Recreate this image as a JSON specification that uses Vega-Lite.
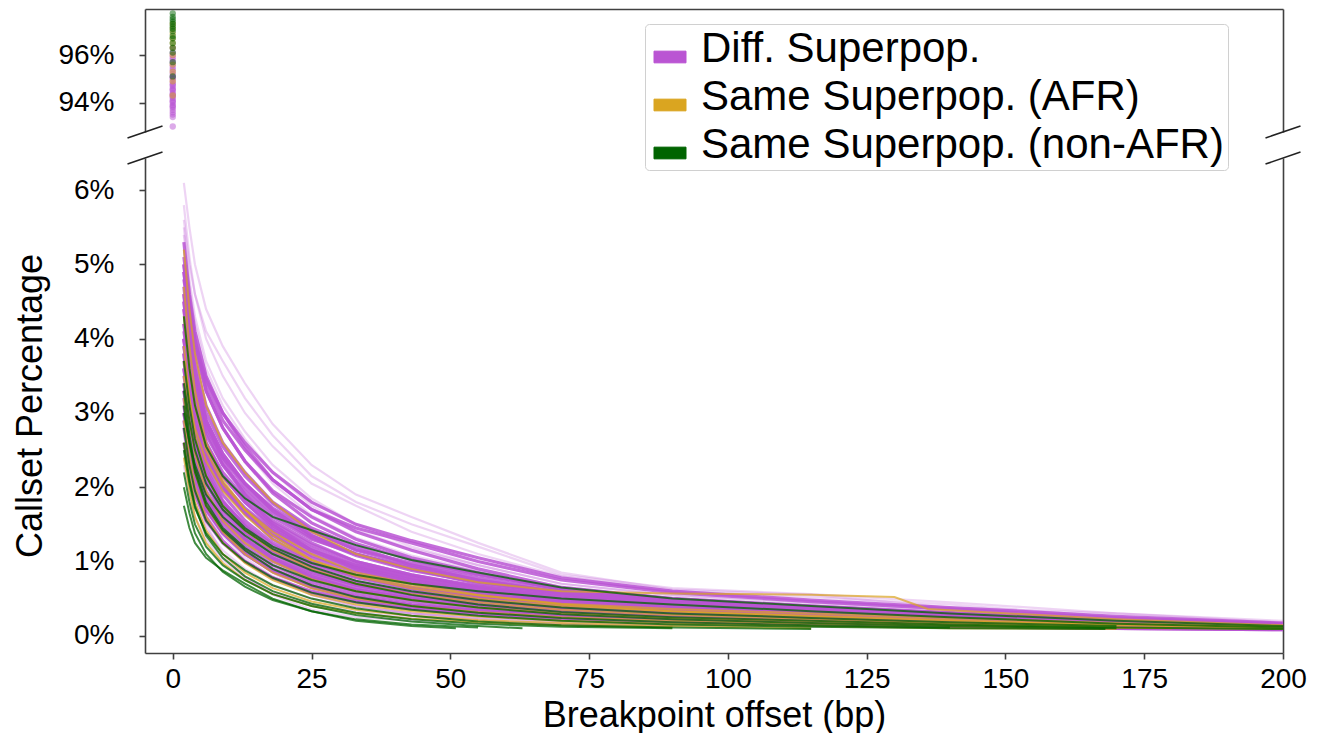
{
"$schema":"https://vega.github.io/schema/vega-lite/v6.json",
"background":"white",
"padding":{"left":12,"top":9,"right":0,"bottom":0},
"spacing":12,
"config":{"view":{"stroke":null},"font":"Liberation Sans",
"legend":{"symbolStrokeColor":"black","symbolStrokeWidth":1},
"axis":{"domainColor":"#404040","domainWidth":1.6,"tickColor":"#404040","tickWidth":1.6,"tickSize":6,"labelFontSize":28,"labelFont":"Liberation Sans","labelColor":"black","titleFont":"Liberation Sans","titleFontSize":36,"titleFontWeight":"normal","titleColor":"black","grid":false,"labelOverlap":false}},
"datasets":{
"P":[{"g":"D","x":0,"y":93.0},{"g":"D","x":0,"y":93.4},{"g":"D","x":0,"y":93.5},{"g":"D","x":0,"y":93.6},{"g":"D","x":0,"y":93.7},{"g":"D","x":0,"y":93.8},{"g":"D","x":0,"y":93.85},{"g":"D","x":0,"y":93.9},{"g":"D","x":0,"y":94.0},{"g":"D","x":0,"y":94.05},{"g":"D","x":0,"y":94.1},{"g":"D","x":0,"y":94.2},{"g":"D","x":0,"y":94.25},{"g":"D","x":0,"y":94.3},{"g":"D","x":0,"y":94.35},{"g":"D","x":0,"y":94.4},{"g":"D","x":0,"y":94.5},{"g":"D","x":0,"y":94.55},{"g":"D","x":0,"y":94.6},{"g":"D","x":0,"y":94.7},{"g":"D","x":0,"y":94.75},{"g":"D","x":0,"y":94.8},{"g":"D","x":0,"y":94.9},{"g":"D","x":0,"y":95.0},{"g":"D","x":0,"y":95.05},{"g":"D","x":0,"y":95.1},{"g":"D","x":0,"y":95.2},{"g":"D","x":0,"y":95.3},{"g":"D","x":0,"y":95.4},{"g":"D","x":0,"y":95.5},{"g":"D","x":0,"y":95.6},{"g":"D","x":0,"y":95.7},{"g":"D","x":0,"y":95.8},{"g":"D","x":0,"y":95.9},{"g":"D","x":0,"y":96.0},{"g":"D","x":0,"y":96.1},{"g":"D","x":0,"y":96.3},
{"g":"A","x":0,"y":94.3},{"g":"A","x":0,"y":94.9},{"g":"A","x":0,"y":95.3},{"g":"A","x":0,"y":95.6},{"g":"A","x":0,"y":96.0},{"g":"A","x":0,"y":96.3},{"g":"A","x":0,"y":96.5},{"g":"A","x":0,"y":96.7},{"g":"A","x":0,"y":96.9},{"g":"A","x":0,"y":97.1},{"g":"A","x":0,"y":97.3},
{"g":"N","x":0,"y":95.1},{"g":"N","x":0,"y":95.7},{"g":"N","x":0,"y":96.1},{"g":"N","x":0,"y":96.3},{"g":"N","x":0,"y":96.5},{"g":"N","x":0,"y":96.7},{"g":"N","x":0,"y":96.8},{"g":"N","x":0,"y":97.0},{"g":"N","x":0,"y":97.1},{"g":"N","x":0,"y":97.2},{"g":"N","x":0,"y":97.3},{"g":"N","x":0,"y":97.4},{"g":"N","x":0,"y":97.5},{"g":"N","x":0,"y":97.6},{"g":"N","x":0,"y":97.75}],
"D":[
{"i":1,"x":2,"y":6.1},{"i":1,"x":3,"y":5.5},{"i":1,"x":4,"y":5.0},{"i":1,"x":6,"y":4.4},{"i":1,"x":9,"y":3.9},{"i":1,"x":13,"y":3.4},{"i":1,"x":18,"y":2.85},{"i":1,"x":25,"y":2.3},{"i":1,"x":33,"y":1.9},{"i":1,"x":43,"y":1.6},{"i":1,"x":55,"y":1.25},{"i":1,"x":70,"y":0.85},{"i":1,"x":90,"y":0.62},{"i":1,"x":115,"y":0.55},{"i":1,"x":140,"y":0.38},{"i":1,"x":170,"y":0.3},{"i":1,"x":200,"y":0.18},
{"i":2,"x":2,"y":5.8},{"i":2,"x":3,"y":5.1},{"i":2,"x":4,"y":4.6},{"i":2,"x":6,"y":4.0},{"i":2,"x":9,"y":3.5},{"i":2,"x":13,"y":3.0},{"i":2,"x":18,"y":2.55},{"i":2,"x":25,"y":2.05},{"i":2,"x":33,"y":1.75},{"i":2,"x":43,"y":1.4},{"i":2,"x":55,"y":1.1},{"i":2,"x":70,"y":0.8},{"i":2,"x":90,"y":0.6},{"i":2,"x":115,"y":0.52},{"i":2,"x":140,"y":0.42},{"i":2,"x":170,"y":0.25},{"i":2,"x":200,"y":0.17},
{"i":3,"x":2,"y":5.5},{"i":3,"x":3,"y":4.8},{"i":3,"x":4,"y":4.3},{"i":3,"x":6,"y":3.7},{"i":3,"x":9,"y":3.2},{"i":3,"x":13,"y":2.75},{"i":3,"x":18,"y":2.3},{"i":3,"x":25,"y":1.85},{"i":3,"x":33,"y":1.5},{"i":3,"x":43,"y":1.2},{"i":3,"x":55,"y":0.95},{"i":3,"x":70,"y":0.7},{"i":3,"x":90,"y":0.55},{"i":3,"x":115,"y":0.45},{"i":3,"x":140,"y":0.35},{"i":3,"x":170,"y":0.22},{"i":3,"x":200,"y":0.16},
{"i":4,"x":2,"y":5.3},{"i":4,"x":3,"y":4.6},{"i":4,"x":4,"y":4.1},{"i":4,"x":6,"y":3.5},{"i":4,"x":9,"y":3.0},{"i":4,"x":13,"y":2.55},{"i":4,"x":18,"y":2.1},{"i":4,"x":25,"y":1.7},{"i":4,"x":33,"y":1.4},{"i":4,"x":43,"y":1.15},{"i":4,"x":55,"y":0.9},{"i":4,"x":70,"y":0.65},{"i":4,"x":90,"y":0.5},{"i":4,"x":115,"y":0.4},{"i":4,"x":140,"y":0.3},{"i":4,"x":170,"y":0.2},{"i":4,"x":200,"y":0.15},
{"i":5,"x":2,"y":5.1},{"i":5,"x":3,"y":4.5},{"i":5,"x":4,"y":4.0},{"i":5,"x":6,"y":3.3},{"i":5,"x":9,"y":2.8},{"i":5,"x":13,"y":2.35},{"i":5,"x":18,"y":1.95},{"i":5,"x":25,"y":1.6},{"i":5,"x":33,"y":1.3},{"i":5,"x":43,"y":1.05},{"i":5,"x":55,"y":0.85},{"i":5,"x":70,"y":0.62},{"i":5,"x":90,"y":0.48},{"i":5,"x":115,"y":0.38},{"i":5,"x":140,"y":0.3},{"i":5,"x":170,"y":0.2},{"i":5,"x":200,"y":0.14},
{"i":6,"x":2,"y":4.9},{"i":6,"x":3,"y":4.2},{"i":6,"x":4,"y":3.7},{"i":6,"x":6,"y":3.1},{"i":6,"x":9,"y":2.6},{"i":6,"x":13,"y":2.2},{"i":6,"x":18,"y":1.8},{"i":6,"x":25,"y":1.45},{"i":6,"x":33,"y":1.2},{"i":6,"x":43,"y":0.95},{"i":6,"x":55,"y":0.75},{"i":6,"x":70,"y":0.58},{"i":6,"x":90,"y":0.45},{"i":6,"x":115,"y":0.35},{"i":6,"x":140,"y":0.27},{"i":6,"x":170,"y":0.19},{"i":6,"x":200,"y":0.14},
{"i":7,"x":2,"y":4.7},{"i":7,"x":3,"y":4.0},{"i":7,"x":4,"y":3.5},{"i":7,"x":6,"y":2.9},{"i":7,"x":9,"y":2.45},{"i":7,"x":13,"y":2.05},{"i":7,"x":18,"y":1.7},{"i":7,"x":25,"y":1.35},{"i":7,"x":33,"y":1.1},{"i":7,"x":43,"y":0.9},{"i":7,"x":55,"y":0.7},{"i":7,"x":70,"y":0.55},{"i":7,"x":90,"y":0.42},{"i":7,"x":115,"y":0.33},{"i":7,"x":140,"y":0.26},{"i":7,"x":170,"y":0.18},{"i":7,"x":200,"y":0.13},
{"i":8,"x":2,"y":4.5},{"i":8,"x":3,"y":3.8},{"i":8,"x":4,"y":3.3},{"i":8,"x":6,"y":2.75},{"i":8,"x":9,"y":2.3},{"i":8,"x":13,"y":1.9},{"i":8,"x":18,"y":1.55},{"i":8,"x":25,"y":1.25},{"i":8,"x":33,"y":1.0},{"i":8,"x":43,"y":0.82},{"i":8,"x":55,"y":0.65},{"i":8,"x":70,"y":0.5},{"i":8,"x":90,"y":0.38},{"i":8,"x":115,"y":0.3},{"i":8,"x":140,"y":0.24},{"i":8,"x":170,"y":0.17},{"i":8,"x":200,"y":0.13},
{"i":9,"x":2,"y":4.4},{"i":9,"x":3,"y":3.7},{"i":9,"x":4,"y":3.2},{"i":9,"x":6,"y":2.6},{"i":9,"x":9,"y":2.15},{"i":9,"x":13,"y":1.8},{"i":9,"x":18,"y":1.45},{"i":9,"x":25,"y":1.15},{"i":9,"x":33,"y":0.92},{"i":9,"x":43,"y":0.75},{"i":9,"x":55,"y":0.6},{"i":9,"x":70,"y":0.46},{"i":9,"x":90,"y":0.36},{"i":9,"x":115,"y":0.28},{"i":9,"x":140,"y":0.22},{"i":9,"x":170,"y":0.16},{"i":9,"x":200,"y":0.12},
{"i":10,"x":2,"y":4.2},{"i":10,"x":3,"y":3.5},{"i":10,"x":4,"y":3.0},{"i":10,"x":6,"y":2.45},{"i":10,"x":9,"y":2.0},{"i":10,"x":13,"y":1.65},{"i":10,"x":18,"y":1.35},{"i":10,"x":25,"y":1.05},{"i":10,"x":33,"y":0.85},{"i":10,"x":43,"y":0.7},{"i":10,"x":55,"y":0.55},{"i":10,"x":70,"y":0.43},{"i":10,"x":90,"y":0.34},{"i":10,"x":115,"y":0.27},{"i":10,"x":140,"y":0.21},{"i":10,"x":170,"y":0.15},{"i":10,"x":200,"y":0.12},
{"i":11,"x":2,"y":4.0},{"i":11,"x":3,"y":3.35},{"i":11,"x":4,"y":2.85},{"i":11,"x":6,"y":2.3},{"i":11,"x":9,"y":1.9},{"i":11,"x":13,"y":1.55},{"i":11,"x":18,"y":1.25},{"i":11,"x":25,"y":0.98},{"i":11,"x":33,"y":0.8},{"i":11,"x":43,"y":0.65},{"i":11,"x":55,"y":0.52},{"i":11,"x":70,"y":0.4},{"i":11,"x":90,"y":0.32},{"i":11,"x":115,"y":0.25},{"i":11,"x":140,"y":0.2},{"i":11,"x":170,"y":0.15},{"i":11,"x":200,"y":0.11},
{"i":12,"x":2,"y":3.8},{"i":12,"x":3,"y":3.2},{"i":12,"x":4,"y":2.7},{"i":12,"x":6,"y":2.2},{"i":12,"x":9,"y":1.8},{"i":12,"x":13,"y":1.45},{"i":12,"x":18,"y":1.15},{"i":12,"x":25,"y":0.9},{"i":12,"x":33,"y":0.72},{"i":12,"x":43,"y":0.58},{"i":12,"x":55,"y":0.47},{"i":12,"x":70,"y":0.37},{"i":12,"x":90,"y":0.3},{"i":12,"x":115,"y":0.24},{"i":12,"x":140,"y":0.19},{"i":12,"x":170,"y":0.14},{"i":12,"x":200,"y":0.11},
{"i":13,"x":2,"y":3.6},{"i":13,"x":3,"y":3.0},{"i":13,"x":4,"y":2.55},{"i":13,"x":6,"y":2.05},{"i":13,"x":9,"y":1.7},{"i":13,"x":13,"y":1.38},{"i":13,"x":18,"y":1.1},{"i":13,"x":25,"y":0.85},{"i":13,"x":33,"y":0.68},{"i":13,"x":43,"y":0.55},{"i":13,"x":55,"y":0.44},{"i":13,"x":70,"y":0.35},{"i":13,"x":90,"y":0.28},{"i":13,"x":115,"y":0.22},{"i":13,"x":140,"y":0.18},{"i":13,"x":170,"y":0.13},{"i":13,"x":200,"y":0.1},
{"i":14,"x":2,"y":3.4},{"i":14,"x":3,"y":2.85},{"i":14,"x":4,"y":2.4},{"i":14,"x":6,"y":1.95},{"i":14,"x":9,"y":1.6},{"i":14,"x":13,"y":1.3},{"i":14,"x":18,"y":1.02},{"i":14,"x":25,"y":0.78},{"i":14,"x":33,"y":0.62},{"i":14,"x":43,"y":0.5},{"i":14,"x":55,"y":0.4},{"i":14,"x":70,"y":0.32},{"i":14,"x":90,"y":0.26},{"i":14,"x":115,"y":0.2},{"i":14,"x":140,"y":0.16},{"i":14,"x":170,"y":0.12},{"i":14,"x":200,"y":0.1},
{"i":15,"x":2,"y":3.2},{"i":15,"x":3,"y":2.7},{"i":15,"x":4,"y":2.3},{"i":15,"x":6,"y":1.85},{"i":15,"x":9,"y":1.5},{"i":15,"x":13,"y":1.2},{"i":15,"x":18,"y":0.95},{"i":15,"x":25,"y":0.72},{"i":15,"x":33,"y":0.57},{"i":15,"x":43,"y":0.46},{"i":15,"x":55,"y":0.37},{"i":15,"x":70,"y":0.3},{"i":15,"x":90,"y":0.24},{"i":15,"x":115,"y":0.19},{"i":15,"x":140,"y":0.15},{"i":15,"x":170,"y":0.11},{"i":15,"x":200,"y":0.09},
{"i":16,"x":2,"y":3.0},{"i":16,"x":3,"y":2.5},{"i":16,"x":4,"y":2.15},{"i":16,"x":6,"y":1.7},{"i":16,"x":9,"y":1.38},{"i":16,"x":13,"y":1.1},{"i":16,"x":18,"y":0.86},{"i":16,"x":25,"y":0.65},{"i":16,"x":33,"y":0.5},{"i":16,"x":43,"y":0.4},{"i":16,"x":55,"y":0.32},{"i":16,"x":70,"y":0.26},{"i":16,"x":90,"y":0.21},{"i":16,"x":115,"y":0.17},{"i":16,"x":140,"y":0.14},{"i":16,"x":170,"y":0.1},{"i":16,"x":200,"y":0.09},
{"i":17,"x":2,"y":2.8},{"i":17,"x":3,"y":2.35},{"i":17,"x":4,"y":2.0},{"i":17,"x":6,"y":1.6},{"i":17,"x":9,"y":1.28},{"i":17,"x":13,"y":1.0},{"i":17,"x":18,"y":0.78},{"i":17,"x":25,"y":0.58},{"i":17,"x":33,"y":0.45},{"i":17,"x":43,"y":0.36},{"i":17,"x":55,"y":0.29},{"i":17,"x":70,"y":0.23},{"i":17,"x":90,"y":0.19},{"i":17,"x":115,"y":0.15},{"i":17,"x":140,"y":0.12},{"i":17,"x":170,"y":0.1},{"i":17,"x":200,"y":0.08},
{"i":18,"x":2,"y":2.5},{"i":18,"x":3,"y":2.1},{"i":18,"x":4,"y":1.8},{"i":18,"x":6,"y":1.45},{"i":18,"x":9,"y":1.15},{"i":18,"x":13,"y":0.9},{"i":18,"x":18,"y":0.68},{"i":18,"x":25,"y":0.5},{"i":18,"x":33,"y":0.38},{"i":18,"x":43,"y":0.3},{"i":18,"x":55,"y":0.24},{"i":18,"x":70,"y":0.2},{"i":18,"x":90,"y":0.16},{"i":18,"x":115,"y":0.13},{"i":18,"x":140,"y":0.11},
{"i":19,"x":2,"y":2.3},{"i":19,"x":3,"y":1.9},{"i":19,"x":4,"y":1.6},{"i":19,"x":6,"y":1.3},{"i":19,"x":9,"y":1.02},{"i":19,"x":13,"y":0.78},{"i":19,"x":18,"y":0.58},{"i":19,"x":25,"y":0.42},{"i":19,"x":33,"y":0.32},{"i":19,"x":43,"y":0.25},{"i":19,"x":55,"y":0.2},{"i":19,"x":70,"y":0.16},{"i":19,"x":90,"y":0.13},
{"i":20,"x":2,"y":5.6},{"i":20,"x":3,"y":5.0},{"i":20,"x":4,"y":4.6},{"i":20,"x":6,"y":4.1},{"i":20,"x":9,"y":3.7},{"i":20,"x":13,"y":3.2},{"i":20,"x":18,"y":2.7},{"i":20,"x":25,"y":2.15},{"i":20,"x":33,"y":1.8},{"i":20,"x":43,"y":1.5},{"i":20,"x":55,"y":1.2},{"i":20,"x":70,"y":0.82},{"i":20,"x":90,"y":0.64},{"i":20,"x":115,"y":0.56},{"i":20,"x":140,"y":0.45},{"i":20,"x":170,"y":0.3},{"i":20,"x":200,"y":0.2},
{"i":21,"x":2,"y":4.8},{"i":21,"x":3,"y":4.3},{"i":21,"x":4,"y":3.9},{"i":21,"x":6,"y":3.4},{"i":21,"x":9,"y":2.9},{"i":21,"x":13,"y":2.5},{"i":21,"x":18,"y":2.1},{"i":21,"x":25,"y":1.7},{"i":21,"x":33,"y":1.45},{"i":21,"x":43,"y":1.25},{"i":21,"x":55,"y":1.0},{"i":21,"x":70,"y":0.75},{"i":21,"x":90,"y":0.58},{"i":21,"x":115,"y":0.46},{"i":21,"x":140,"y":0.36},{"i":21,"x":170,"y":0.24},{"i":21,"x":200,"y":0.16},
{"i":22,"x":2,"y":4.1},{"i":22,"x":3,"y":3.6},{"i":22,"x":4,"y":3.2},{"i":22,"x":6,"y":2.7},{"i":22,"x":9,"y":2.3},{"i":22,"x":13,"y":1.95},{"i":22,"x":18,"y":1.6},{"i":22,"x":25,"y":1.3},{"i":22,"x":33,"y":1.1},{"i":22,"x":43,"y":0.92},{"i":22,"x":55,"y":0.75},{"i":22,"x":70,"y":0.58},{"i":22,"x":90,"y":0.45},{"i":22,"x":115,"y":0.36},{"i":22,"x":140,"y":0.28},{"i":22,"x":170,"y":0.2},{"i":22,"x":200,"y":0.14},
{"i":23,"x":2,"y":3.5},{"i":23,"x":3,"y":3.1},{"i":23,"x":4,"y":2.8},{"i":23,"x":6,"y":2.4},{"i":23,"x":9,"y":2.05},{"i":23,"x":13,"y":1.7},{"i":23,"x":18,"y":1.4},{"i":23,"x":25,"y":1.12},{"i":23,"x":33,"y":0.92},{"i":23,"x":43,"y":0.76},{"i":23,"x":55,"y":0.62},{"i":23,"x":70,"y":0.48},{"i":23,"x":90,"y":0.38},{"i":23,"x":115,"y":0.3},{"i":23,"x":140,"y":0.23},{"i":23,"x":170,"y":0.17},{"i":23,"x":200,"y":0.12},
{"i":24,"x":2,"y":2.7},{"i":24,"x":3,"y":2.3},{"i":24,"x":4,"y":2.0},{"i":24,"x":6,"y":1.65},{"i":24,"x":9,"y":1.35},{"i":24,"x":13,"y":1.05},{"i":24,"x":18,"y":0.8},{"i":24,"x":25,"y":0.55},{"i":24,"x":33,"y":0.4},{"i":24,"x":43,"y":0.3},{"i":24,"x":55,"y":0.22},{"i":24,"x":70,"y":0.17},{"i":24,"x":90,"y":0.14},{"i":24,"x":115,"y":0.12},
{"i":25,"x":2,"y":3.1},{"i":25,"x":3,"y":2.5},{"i":25,"x":4,"y":2.0},{"i":25,"x":6,"y":1.5},{"i":25,"x":9,"y":1.1},{"i":25,"x":13,"y":0.8},{"i":25,"x":18,"y":0.55},{"i":25,"x":25,"y":0.35},{"i":25,"x":33,"y":0.25},{"i":25,"x":43,"y":0.2},{"i":25,"x":55,"y":0.17},{"i":25,"x":70,"y":0.15},{"i":25,"x":90,"y":0.12},
{"i":26,"x":2,"y":4.3},{"i":26,"x":3,"y":3.4},{"i":26,"x":4,"y":2.8},{"i":26,"x":6,"y":2.1},{"i":26,"x":9,"y":1.6},{"i":26,"x":13,"y":1.2},{"i":26,"x":18,"y":0.85},{"i":26,"x":25,"y":0.55},{"i":26,"x":33,"y":0.4},{"i":26,"x":43,"y":0.3},{"i":26,"x":55,"y":0.24},{"i":26,"x":70,"y":0.2},{"i":26,"x":90,"y":0.16},{"i":26,"x":115,"y":0.14},{"i":26,"x":140,"y":0.12},{"i":26,"x":170,"y":0.1},{"i":26,"x":200,"y":0.08},
{"i":27,"x":2,"y":5.0},{"i":27,"x":3,"y":4.4},{"i":27,"x":4,"y":3.95},{"i":27,"x":6,"y":3.45},{"i":27,"x":9,"y":3.0},{"i":27,"x":13,"y":2.6},{"i":27,"x":18,"y":2.2},{"i":27,"x":25,"y":1.8},{"i":27,"x":33,"y":1.5},{"i":27,"x":43,"y":1.28},{"i":27,"x":55,"y":1.05},{"i":27,"x":70,"y":0.78},{"i":27,"x":90,"y":0.6},{"i":27,"x":115,"y":0.48},{"i":27,"x":140,"y":0.38},{"i":27,"x":170,"y":0.26},{"i":27,"x":200,"y":0.17},
{"i":28,"x":2,"y":3.9},{"i":28,"x":3,"y":3.3},{"i":28,"x":4,"y":2.9},{"i":28,"x":6,"y":2.45},{"i":28,"x":9,"y":2.05},{"i":28,"x":13,"y":1.72},{"i":28,"x":18,"y":1.42},{"i":28,"x":25,"y":1.15},{"i":28,"x":33,"y":0.95},{"i":28,"x":43,"y":0.8},{"i":28,"x":55,"y":0.66},{"i":28,"x":70,"y":0.52},{"i":28,"x":90,"y":0.42},{"i":28,"x":115,"y":0.34},{"i":28,"x":140,"y":0.26},{"i":28,"x":170,"y":0.18},{"i":28,"x":200,"y":0.13},
{"i":29,"x":2,"y":4.6},{"i":29,"x":3,"y":4.0},{"i":29,"x":4,"y":3.55},{"i":29,"x":6,"y":3.0},{"i":29,"x":9,"y":2.55},{"i":29,"x":13,"y":2.15},{"i":29,"x":18,"y":1.78},{"i":29,"x":25,"y":1.42},{"i":29,"x":33,"y":1.15},{"i":29,"x":43,"y":0.95},{"i":29,"x":55,"y":0.78},{"i":29,"x":70,"y":0.6},{"i":29,"x":90,"y":0.47},{"i":29,"x":115,"y":0.37},{"i":29,"x":140,"y":0.29},{"i":29,"x":170,"y":0.2},{"i":29,"x":200,"y":0.14},
{"i":30,"x":2,"y":4.4},{"i":30,"x":3,"y":3.85},{"i":30,"x":4,"y":3.4},{"i":30,"x":6,"y":2.85},{"i":30,"x":9,"y":2.4},{"i":30,"x":13,"y":2.0},{"i":30,"x":18,"y":1.65},{"i":30,"x":25,"y":1.32},{"i":30,"x":33,"y":1.08},{"i":30,"x":43,"y":0.88},{"i":30,"x":55,"y":0.72},{"i":30,"x":70,"y":0.56},{"i":30,"x":90,"y":0.44},{"i":30,"x":115,"y":0.35},{"i":30,"x":140,"y":0.27},{"i":30,"x":170,"y":0.19},{"i":30,"x":200,"y":0.13},
{"i":31,"x":2,"y":4.0},{"i":31,"x":3,"y":3.5},{"i":31,"x":4,"y":3.1},{"i":31,"x":6,"y":2.6},{"i":31,"x":9,"y":2.2},{"i":31,"x":13,"y":1.85},{"i":31,"x":18,"y":1.52},{"i":31,"x":25,"y":1.22},{"i":31,"x":33,"y":1.0},{"i":31,"x":43,"y":0.82},{"i":31,"x":55,"y":0.67},{"i":31,"x":70,"y":0.52},{"i":31,"x":90,"y":0.41},{"i":31,"x":115,"y":0.33},{"i":31,"x":140,"y":0.26},{"i":31,"x":170,"y":0.18},{"i":31,"x":200,"y":0.13},
{"i":32,"x":2,"y":3.7},{"i":32,"x":3,"y":3.2},{"i":32,"x":4,"y":2.8},{"i":32,"x":6,"y":2.35},{"i":32,"x":9,"y":1.98},{"i":32,"x":13,"y":1.65},{"i":32,"x":18,"y":1.36},{"i":32,"x":25,"y":1.08},{"i":32,"x":33,"y":0.88},{"i":32,"x":43,"y":0.72},{"i":32,"x":55,"y":0.58},{"i":32,"x":70,"y":0.45},{"i":32,"x":90,"y":0.36},{"i":32,"x":115,"y":0.29},{"i":32,"x":140,"y":0.23},{"i":32,"x":170,"y":0.16},{"i":32,"x":200,"y":0.12},
{"i":33,"x":2,"y":5.2},{"i":33,"x":3,"y":4.6},{"i":33,"x":4,"y":4.1},{"i":33,"x":6,"y":3.5},{"i":33,"x":9,"y":3.0},{"i":33,"x":13,"y":2.5},{"i":33,"x":18,"y":2.05},{"i":33,"x":25,"y":1.62},{"i":33,"x":33,"y":1.32},{"i":33,"x":43,"y":1.08},{"i":33,"x":55,"y":0.88},{"i":33,"x":70,"y":0.66},{"i":33,"x":90,"y":0.5},{"i":33,"x":115,"y":0.4},{"i":33,"x":140,"y":0.31},{"i":33,"x":170,"y":0.21},{"i":33,"x":200,"y":0.15},
{"i":34,"x":2,"y":4.9},{"i":34,"x":3,"y":4.3},{"i":34,"x":4,"y":3.85},{"i":34,"x":6,"y":3.3},{"i":34,"x":9,"y":2.8},{"i":34,"x":13,"y":2.35},{"i":34,"x":18,"y":1.92},{"i":34,"x":25,"y":1.52},{"i":34,"x":33,"y":1.24},{"i":34,"x":43,"y":1.02},{"i":34,"x":55,"y":0.83},{"i":34,"x":70,"y":0.63},{"i":34,"x":90,"y":0.49},{"i":34,"x":115,"y":0.39},{"i":34,"x":140,"y":0.3},{"i":34,"x":170,"y":0.2},{"i":34,"x":200,"y":0.14},
{"i":35,"x":2,"y":3.3},{"i":35,"x":3,"y":2.9},{"i":35,"x":4,"y":2.55},{"i":35,"x":6,"y":2.15},{"i":35,"x":9,"y":1.8},{"i":35,"x":13,"y":1.5},{"i":35,"x":18,"y":1.22},{"i":35,"x":25,"y":0.96},{"i":35,"x":33,"y":0.78},{"i":35,"x":43,"y":0.63},{"i":35,"x":55,"y":0.51},{"i":35,"x":70,"y":0.4},{"i":35,"x":90,"y":0.32},{"i":35,"x":115,"y":0.26},{"i":35,"x":140,"y":0.2},{"i":35,"x":170,"y":0.15},{"i":35,"x":200,"y":0.11},
{"i":36,"x":2,"y":4.2},{"i":36,"x":3,"y":3.7},{"i":36,"x":4,"y":3.3},{"i":36,"x":6,"y":2.8},{"i":36,"x":9,"y":2.4},{"i":36,"x":13,"y":2.05},{"i":36,"x":18,"y":1.72},{"i":36,"x":25,"y":1.4},{"i":36,"x":33,"y":1.16},{"i":36,"x":43,"y":0.98},{"i":36,"x":55,"y":0.82},{"i":36,"x":70,"y":0.64},{"i":36,"x":90,"y":0.5},{"i":36,"x":115,"y":0.4},{"i":36,"x":140,"y":0.31},{"i":36,"x":170,"y":0.21},{"i":36,"x":200,"y":0.15},
{"i":37,"x":2,"y":5.4},{"i":37,"x":3,"y":4.7},{"i":37,"x":4,"y":4.2},{"i":37,"x":6,"y":3.6},{"i":37,"x":9,"y":3.1},{"i":37,"x":13,"y":2.65},{"i":37,"x":18,"y":2.2},{"i":37,"x":25,"y":1.75},{"i":37,"x":33,"y":1.42},{"i":37,"x":43,"y":1.17},{"i":37,"x":55,"y":0.95},{"i":37,"x":70,"y":0.7},{"i":37,"x":90,"y":0.54},{"i":37,"x":115,"y":0.43},{"i":37,"x":140,"y":0.33},{"i":37,"x":170,"y":0.22},{"i":37,"x":200,"y":0.15},
{"i":38,"x":2,"y":3.0},{"i":38,"x":3,"y":2.6},{"i":38,"x":4,"y":2.3},{"i":38,"x":6,"y":1.9},{"i":38,"x":9,"y":1.58},{"i":38,"x":13,"y":1.3},{"i":38,"x":18,"y":1.05},{"i":38,"x":25,"y":0.82},{"i":38,"x":33,"y":0.66},{"i":38,"x":43,"y":0.53},{"i":38,"x":55,"y":0.43},{"i":38,"x":70,"y":0.34},{"i":38,"x":90,"y":0.27},{"i":38,"x":115,"y":0.22},{"i":38,"x":140,"y":0.17},{"i":38,"x":170,"y":0.13},{"i":38,"x":200,"y":0.1},
{"i":39,"x":2,"y":4.5},{"i":39,"x":3,"y":3.9},{"i":39,"x":4,"y":3.45},{"i":39,"x":6,"y":2.9},{"i":39,"x":9,"y":2.45},{"i":39,"x":13,"y":2.05},{"i":39,"x":18,"y":1.68},{"i":39,"x":25,"y":1.35},{"i":39,"x":33,"y":1.1},{"i":39,"x":43,"y":0.9},{"i":39,"x":55,"y":0.73},{"i":39,"x":70,"y":0.57},{"i":39,"x":90,"y":0.45},{"i":39,"x":115,"y":0.36},{"i":39,"x":140,"y":0.28},{"i":39,"x":170,"y":0.19},{"i":39,"x":200,"y":0.14},
{"i":40,"x":2,"y":3.9},{"i":40,"x":3,"y":3.45},{"i":40,"x":4,"y":3.05},{"i":40,"x":6,"y":2.55},{"i":40,"x":9,"y":2.15},{"i":40,"x":13,"y":1.8},{"i":40,"x":18,"y":1.48},{"i":40,"x":25,"y":1.18},{"i":40,"x":33,"y":0.96},{"i":40,"x":43,"y":0.78},{"i":40,"x":55,"y":0.63},{"i":40,"x":70,"y":0.49},{"i":40,"x":90,"y":0.39},{"i":40,"x":115,"y":0.31},{"i":40,"x":140,"y":0.24},{"i":40,"x":170,"y":0.17},{"i":40,"x":200,"y":0.12},
{"i":41,"x":2,"y":3.4},{"i":41,"x":3,"y":2.8},{"i":41,"x":4,"y":2.35},{"i":41,"x":6,"y":1.85},{"i":41,"x":9,"y":1.45},{"i":41,"x":13,"y":1.15},{"i":41,"x":18,"y":0.9},{"i":41,"x":25,"y":0.68},{"i":41,"x":33,"y":0.53},{"i":41,"x":43,"y":0.42},{"i":41,"x":55,"y":0.34},{"i":41,"x":70,"y":0.27},{"i":41,"x":90,"y":0.22},{"i":41,"x":115,"y":0.18},{"i":41,"x":140,"y":0.14},{"i":41,"x":170,"y":0.11},{"i":41,"x":200,"y":0.09},
{"i":42,"x":2,"y":3.1},{"i":42,"x":3,"y":2.6},{"i":42,"x":4,"y":2.2},{"i":42,"x":6,"y":1.75},{"i":42,"x":9,"y":1.4},{"i":42,"x":13,"y":1.12},{"i":42,"x":18,"y":0.88},{"i":42,"x":25,"y":0.67},{"i":42,"x":33,"y":0.52},{"i":42,"x":43,"y":0.41},{"i":42,"x":55,"y":0.33},{"i":42,"x":70,"y":0.26},{"i":42,"x":90,"y":0.21},{"i":42,"x":115,"y":0.17},{"i":42,"x":140,"y":0.14},{"i":42,"x":170,"y":0.11},{"i":42,"x":200,"y":0.09},
{"i":43,"x":2,"y":3.6},{"i":43,"x":3,"y":3.05},{"i":43,"x":4,"y":2.6},{"i":43,"x":6,"y":2.1},{"i":43,"x":9,"y":1.72},{"i":43,"x":13,"y":1.4},{"i":43,"x":18,"y":1.12},{"i":43,"x":25,"y":0.87},{"i":43,"x":33,"y":0.69},{"i":43,"x":43,"y":0.56},{"i":43,"x":55,"y":0.45},{"i":43,"x":70,"y":0.36},{"i":43,"x":90,"y":0.29},{"i":43,"x":115,"y":0.23},{"i":43,"x":140,"y":0.18},{"i":43,"x":170,"y":0.13},{"i":43,"x":200,"y":0.1},
{"i":44,"x":2,"y":2.9},{"i":44,"x":3,"y":2.45},{"i":44,"x":4,"y":2.1},{"i":44,"x":6,"y":1.7},{"i":44,"x":9,"y":1.38},{"i":44,"x":13,"y":1.1},{"i":44,"x":18,"y":0.87},{"i":44,"x":25,"y":0.66},{"i":44,"x":33,"y":0.52},{"i":44,"x":43,"y":0.41},{"i":44,"x":55,"y":0.33},{"i":44,"x":70,"y":0.27},{"i":44,"x":90,"y":0.22},{"i":44,"x":115,"y":0.18},{"i":44,"x":140,"y":0.14},{"i":44,"x":170,"y":0.11},{"i":44,"x":200,"y":0.09},
{"i":45,"x":2,"y":4.0},{"i":45,"x":3,"y":3.3},{"i":45,"x":4,"y":2.8},{"i":45,"x":6,"y":2.25},{"i":45,"x":9,"y":1.82},{"i":45,"x":13,"y":1.48},{"i":45,"x":18,"y":1.18},{"i":45,"x":25,"y":0.92},{"i":45,"x":33,"y":0.73},{"i":45,"x":43,"y":0.59},{"i":45,"x":55,"y":0.48},{"i":45,"x":70,"y":0.38},{"i":45,"x":90,"y":0.3},{"i":45,"x":115,"y":0.24},{"i":45,"x":140,"y":0.19},{"i":45,"x":170,"y":0.14},{"i":45,"x":200,"y":0.11},
{"i":46,"x":2,"y":3.8},{"i":46,"x":3,"y":3.1},{"i":46,"x":4,"y":2.6},{"i":46,"x":6,"y":2.05},{"i":46,"x":9,"y":1.65},{"i":46,"x":13,"y":1.32},{"i":46,"x":18,"y":1.05},{"i":46,"x":25,"y":0.8},{"i":46,"x":33,"y":0.62},{"i":46,"x":43,"y":0.5},{"i":46,"x":55,"y":0.4},{"i":46,"x":70,"y":0.31},{"i":46,"x":90,"y":0.25},{"i":46,"x":115,"y":0.2},{"i":46,"x":140,"y":0.16},{"i":46,"x":170,"y":0.12},{"i":46,"x":200,"y":0.1},
{"i":47,"x":2,"y":4.6},{"i":47,"x":3,"y":3.8},{"i":47,"x":4,"y":3.2},{"i":47,"x":6,"y":2.55},{"i":47,"x":9,"y":2.05},{"i":47,"x":13,"y":1.65},{"i":47,"x":18,"y":1.3},{"i":47,"x":25,"y":1.0},{"i":47,"x":33,"y":0.8},{"i":47,"x":43,"y":0.64},{"i":47,"x":55,"y":0.52},{"i":47,"x":70,"y":0.41},{"i":47,"x":90,"y":0.33},{"i":47,"x":115,"y":0.26},{"i":47,"x":140,"y":0.2},{"i":47,"x":170,"y":0.15},{"i":47,"x":200,"y":0.11},
{"i":48,"x":2,"y":5.0},{"i":48,"x":3,"y":4.2},{"i":48,"x":4,"y":3.6},{"i":48,"x":6,"y":2.9},{"i":48,"x":9,"y":2.35},{"i":48,"x":13,"y":1.9},{"i":48,"x":18,"y":1.5},{"i":48,"x":25,"y":1.15},{"i":48,"x":33,"y":0.9},{"i":48,"x":43,"y":0.72},{"i":48,"x":55,"y":0.58},{"i":48,"x":70,"y":0.45},{"i":48,"x":90,"y":0.36},{"i":48,"x":115,"y":0.29},{"i":48,"x":140,"y":0.22},{"i":48,"x":170,"y":0.16},{"i":48,"x":200,"y":0.12},
{"i":49,"x":2,"y":2.6},{"i":49,"x":3,"y":2.2},{"i":49,"x":4,"y":1.9},{"i":49,"x":6,"y":1.55},{"i":49,"x":9,"y":1.25},{"i":49,"x":13,"y":1.0},{"i":49,"x":18,"y":0.78},{"i":49,"x":25,"y":0.6},{"i":49,"x":33,"y":0.47},{"i":49,"x":43,"y":0.37},{"i":49,"x":55,"y":0.3},{"i":49,"x":70,"y":0.24},{"i":49,"x":90,"y":0.2},{"i":49,"x":115,"y":0.16},{"i":49,"x":140,"y":0.13},{"i":49,"x":170,"y":0.1},{"i":49,"x":200,"y":0.08},
{"i":50,"x":2,"y":3.3},{"i":50,"x":3,"y":2.75},{"i":50,"x":4,"y":2.35},{"i":50,"x":6,"y":1.9},{"i":50,"x":9,"y":1.55},{"i":50,"x":13,"y":1.25},{"i":50,"x":18,"y":1.0},{"i":50,"x":25,"y":0.77},{"i":50,"x":33,"y":0.61},{"i":50,"x":43,"y":0.49},{"i":50,"x":55,"y":0.4},{"i":50,"x":70,"y":0.32},{"i":50,"x":90,"y":0.26},{"i":50,"x":115,"y":0.21},{"i":50,"x":140,"y":0.16},{"i":50,"x":170,"y":0.12},{"i":50,"x":200,"y":0.1}],
"A":[
{"i":1,"x":2,"y":5.2},{"i":1,"x":3,"y":4.4},{"i":1,"x":4,"y":3.8},{"i":1,"x":6,"y":3.1},{"i":1,"x":9,"y":2.6},{"i":1,"x":13,"y":2.2},{"i":1,"x":18,"y":1.8},{"i":1,"x":25,"y":1.4},{"i":1,"x":33,"y":1.1},{"i":1,"x":43,"y":0.9},{"i":1,"x":55,"y":0.72},{"i":1,"x":70,"y":0.6},{"i":1,"x":90,"y":0.57},{"i":1,"x":115,"y":0.55},{"i":1,"x":130,"y":0.52},{"i":1,"x":136,"y":0.36},{"i":1,"x":170,"y":0.22},{"i":1,"x":200,"y":0.14},
{"i":2,"x":2,"y":4.3},{"i":2,"x":3,"y":3.6},{"i":2,"x":4,"y":3.1},{"i":2,"x":6,"y":2.5},{"i":2,"x":9,"y":2.05},{"i":2,"x":13,"y":1.7},{"i":2,"x":18,"y":1.4},{"i":2,"x":25,"y":1.1},{"i":2,"x":33,"y":0.85},{"i":2,"x":43,"y":0.7},{"i":2,"x":55,"y":0.55},{"i":2,"x":70,"y":0.42},{"i":2,"x":90,"y":0.33},{"i":2,"x":115,"y":0.26},{"i":2,"x":140,"y":0.2},{"i":2,"x":170,"y":0.14},{"i":2,"x":200,"y":0.1},
{"i":3,"x":2,"y":3.9},{"i":3,"x":3,"y":3.2},{"i":3,"x":4,"y":2.7},{"i":3,"x":6,"y":2.15},{"i":3,"x":9,"y":1.75},{"i":3,"x":13,"y":1.42},{"i":3,"x":18,"y":1.15},{"i":3,"x":25,"y":0.9},{"i":3,"x":33,"y":0.7},{"i":3,"x":43,"y":0.56},{"i":3,"x":55,"y":0.45},{"i":3,"x":70,"y":0.35},{"i":3,"x":90,"y":0.28},{"i":3,"x":115,"y":0.22},{"i":3,"x":140,"y":0.17},{"i":3,"x":170,"y":0.12},
{"i":4,"x":2,"y":3.5},{"i":4,"x":3,"y":2.9},{"i":4,"x":4,"y":2.45},{"i":4,"x":6,"y":1.95},{"i":4,"x":9,"y":1.55},{"i":4,"x":13,"y":1.25},{"i":4,"x":18,"y":1.0},{"i":4,"x":25,"y":0.76},{"i":4,"x":33,"y":0.6},{"i":4,"x":43,"y":0.48},{"i":4,"x":55,"y":0.38},{"i":4,"x":70,"y":0.3},{"i":4,"x":90,"y":0.24},{"i":4,"x":115,"y":0.19},{"i":4,"x":140,"y":0.15},{"i":4,"x":170,"y":0.11},{"i":4,"x":200,"y":0.09},
{"i":5,"x":2,"y":3.2},{"i":5,"x":3,"y":2.6},{"i":5,"x":4,"y":2.2},{"i":5,"x":6,"y":1.75},{"i":5,"x":9,"y":1.4},{"i":5,"x":13,"y":1.1},{"i":5,"x":18,"y":0.85},{"i":5,"x":25,"y":0.64},{"i":5,"x":33,"y":0.5},{"i":5,"x":43,"y":0.4},{"i":5,"x":55,"y":0.32},{"i":5,"x":70,"y":0.25},{"i":5,"x":90,"y":0.2},{"i":5,"x":115,"y":0.16},{"i":5,"x":140,"y":0.13},{"i":5,"x":180,"y":0.1},
{"i":6,"x":2,"y":2.9},{"i":6,"x":3,"y":2.4},{"i":6,"x":4,"y":2.0},{"i":6,"x":6,"y":1.6},{"i":6,"x":9,"y":1.25},{"i":6,"x":13,"y":0.98},{"i":6,"x":18,"y":0.75},{"i":6,"x":25,"y":0.55},{"i":6,"x":33,"y":0.42},{"i":6,"x":43,"y":0.33},{"i":6,"x":55,"y":0.26},{"i":6,"x":70,"y":0.2},{"i":6,"x":90,"y":0.16},{"i":6,"x":115,"y":0.13},{"i":6,"x":140,"y":0.1},{"i":6,"x":170,"y":0.09},
{"i":7,"x":2,"y":2.6},{"i":7,"x":3,"y":2.15},{"i":7,"x":4,"y":1.8},{"i":7,"x":6,"y":1.42},{"i":7,"x":9,"y":1.1},{"i":7,"x":13,"y":0.85},{"i":7,"x":18,"y":0.64},{"i":7,"x":25,"y":0.46},{"i":7,"x":33,"y":0.35},{"i":7,"x":43,"y":0.27},{"i":7,"x":55,"y":0.21},{"i":7,"x":70,"y":0.17},{"i":7,"x":90,"y":0.13},{"i":7,"x":115,"y":0.1},
{"i":8,"x":2,"y":3.7},{"i":8,"x":3,"y":3.2},{"i":8,"x":4,"y":2.8},{"i":8,"x":6,"y":2.35},{"i":8,"x":9,"y":1.95},{"i":8,"x":13,"y":1.62},{"i":8,"x":18,"y":1.3},{"i":8,"x":25,"y":1.02},{"i":8,"x":33,"y":0.82},{"i":8,"x":43,"y":0.67},{"i":8,"x":55,"y":0.54},{"i":8,"x":70,"y":0.43},{"i":8,"x":90,"y":0.36},{"i":8,"x":115,"y":0.3},{"i":8,"x":140,"y":0.24},{"i":8,"x":170,"y":0.17},{"i":8,"x":200,"y":0.12},
{"i":9,"x":2,"y":2.4},{"i":9,"x":3,"y":1.95},{"i":9,"x":4,"y":1.6},{"i":9,"x":6,"y":1.25},{"i":9,"x":9,"y":0.98},{"i":9,"x":13,"y":0.75},{"i":9,"x":18,"y":0.56},{"i":9,"x":25,"y":0.4},{"i":9,"x":33,"y":0.3},{"i":9,"x":43,"y":0.23},{"i":9,"x":55,"y":0.18},{"i":9,"x":70,"y":0.14},{"i":9,"x":90,"y":0.11},
{"i":10,"x":2,"y":4.7},{"i":10,"x":3,"y":3.9},{"i":10,"x":4,"y":3.3},{"i":10,"x":6,"y":2.6},{"i":10,"x":9,"y":2.1},{"i":10,"x":13,"y":1.7},{"i":10,"x":18,"y":1.35},{"i":10,"x":25,"y":1.02},{"i":10,"x":33,"y":0.8},{"i":10,"x":43,"y":0.64},{"i":10,"x":55,"y":0.5},{"i":10,"x":70,"y":0.4},{"i":10,"x":90,"y":0.33},{"i":10,"x":115,"y":0.27},{"i":10,"x":140,"y":0.21},{"i":10,"x":170,"y":0.15},{"i":10,"x":200,"y":0.11}],
"N":[
{"i":1,"x":2,"y":1.75},{"i":1,"x":3,"y":1.45},{"i":1,"x":4,"y":1.25},{"i":1,"x":6,"y":1.05},{"i":1,"x":9,"y":0.88},{"i":1,"x":13,"y":0.7},{"i":1,"x":18,"y":0.5},{"i":1,"x":25,"y":0.33},{"i":1,"x":33,"y":0.2},{"i":1,"x":43,"y":0.13},{"i":1,"x":51,"y":0.1},
{"i":2,"x":2,"y":2.2},{"i":2,"x":3,"y":1.8},{"i":2,"x":4,"y":1.5},{"i":2,"x":6,"y":1.2},{"i":2,"x":9,"y":0.95},{"i":2,"x":13,"y":0.75},{"i":2,"x":18,"y":0.56},{"i":2,"x":25,"y":0.4},{"i":2,"x":33,"y":0.28},{"i":2,"x":43,"y":0.19},{"i":2,"x":55,"y":0.13},{"i":2,"x":63,"y":0.1},
{"i":3,"x":2,"y":2.5},{"i":3,"x":3,"y":2.05},{"i":3,"x":4,"y":1.72},{"i":3,"x":6,"y":1.38},{"i":3,"x":9,"y":1.1},{"i":3,"x":13,"y":0.88},{"i":3,"x":18,"y":0.68},{"i":3,"x":25,"y":0.5},{"i":3,"x":33,"y":0.37},{"i":3,"x":43,"y":0.27},{"i":3,"x":55,"y":0.19},{"i":3,"x":70,"y":0.14},{"i":3,"x":90,"y":0.11},{"i":3,"x":115,"y":0.09},
{"i":4,"x":2,"y":2.8},{"i":4,"x":3,"y":2.3},{"i":4,"x":4,"y":1.95},{"i":4,"x":6,"y":1.55},{"i":4,"x":9,"y":1.25},{"i":4,"x":13,"y":1.0},{"i":4,"x":18,"y":0.78},{"i":4,"x":25,"y":0.58},{"i":4,"x":33,"y":0.45},{"i":4,"x":43,"y":0.35},{"i":4,"x":55,"y":0.27},{"i":4,"x":70,"y":0.2},{"i":4,"x":90,"y":0.15},{"i":4,"x":115,"y":0.12},{"i":4,"x":140,"y":0.1},{"i":4,"x":168,"y":0.09},
{"i":5,"x":2,"y":3.1},{"i":5,"x":3,"y":2.6},{"i":5,"x":4,"y":2.2},{"i":5,"x":6,"y":1.75},{"i":5,"x":9,"y":1.42},{"i":5,"x":13,"y":1.15},{"i":5,"x":18,"y":0.9},{"i":5,"x":25,"y":0.68},{"i":5,"x":33,"y":0.52},{"i":5,"x":43,"y":0.4},{"i":5,"x":55,"y":0.31},{"i":5,"x":70,"y":0.24},{"i":5,"x":90,"y":0.18},{"i":5,"x":115,"y":0.14},{"i":5,"x":140,"y":0.11},
{"i":6,"x":2,"y":3.4},{"i":6,"x":3,"y":2.9},{"i":6,"x":4,"y":2.5},{"i":6,"x":6,"y":2.05},{"i":6,"x":9,"y":1.7},{"i":6,"x":13,"y":1.42},{"i":6,"x":18,"y":1.17},{"i":6,"x":25,"y":0.93},{"i":6,"x":33,"y":0.74},{"i":6,"x":43,"y":0.6},{"i":6,"x":55,"y":0.48},{"i":6,"x":70,"y":0.38},{"i":6,"x":90,"y":0.3},{"i":6,"x":115,"y":0.24},{"i":6,"x":140,"y":0.18},{"i":6,"x":170,"y":0.13},
{"i":7,"x":2,"y":4.3},{"i":7,"x":3,"y":3.6},{"i":7,"x":4,"y":3.1},{"i":7,"x":6,"y":2.55},{"i":7,"x":9,"y":2.15},{"i":7,"x":13,"y":1.85},{"i":7,"x":18,"y":1.6},{"i":7,"x":25,"y":1.42},{"i":7,"x":33,"y":1.22},{"i":7,"x":43,"y":1.02},{"i":7,"x":55,"y":0.85},{"i":7,"x":70,"y":0.65},{"i":7,"x":90,"y":0.5},{"i":7,"x":115,"y":0.4},{"i":7,"x":140,"y":0.3},{"i":7,"x":170,"y":0.2},{"i":7,"x":200,"y":0.13},
{"i":8,"x":2,"y":3.0},{"i":8,"x":3,"y":2.6},{"i":8,"x":4,"y":2.3},{"i":8,"x":6,"y":1.9},{"i":8,"x":9,"y":1.6},{"i":8,"x":13,"y":1.35},{"i":8,"x":18,"y":1.1},{"i":8,"x":25,"y":0.88},{"i":8,"x":33,"y":0.7},{"i":8,"x":43,"y":0.55},{"i":8,"x":55,"y":0.42},{"i":8,"x":70,"y":0.32},{"i":8,"x":90,"y":0.25},{"i":8,"x":115,"y":0.2},{"i":8,"x":140,"y":0.15},{"i":8,"x":170,"y":0.11},{"i":8,"x":200,"y":0.09},
{"i":9,"x":2,"y":2.6},{"i":9,"x":3,"y":2.1},{"i":9,"x":4,"y":1.75},{"i":9,"x":6,"y":1.35},{"i":9,"x":9,"y":1.05},{"i":9,"x":13,"y":0.8},{"i":9,"x":18,"y":0.6},{"i":9,"x":25,"y":0.43},{"i":9,"x":33,"y":0.31},{"i":9,"x":43,"y":0.22},{"i":9,"x":55,"y":0.16},{"i":9,"x":70,"y":0.12},{"i":9,"x":90,"y":0.1},
{"i":10,"x":2,"y":3.7},{"i":10,"x":3,"y":3.1},{"i":10,"x":4,"y":2.65},{"i":10,"x":6,"y":2.15},{"i":10,"x":9,"y":1.75},{"i":10,"x":13,"y":1.45},{"i":10,"x":18,"y":1.2},{"i":10,"x":25,"y":0.98},{"i":10,"x":33,"y":0.82},{"i":10,"x":43,"y":0.7},{"i":10,"x":55,"y":0.6},{"i":10,"x":70,"y":0.5},{"i":10,"x":90,"y":0.42},{"i":10,"x":115,"y":0.33},{"i":10,"x":140,"y":0.25},{"i":10,"x":170,"y":0.16},{"i":10,"x":200,"y":0.11},
{"i":11,"x":2,"y":2.0},{"i":11,"x":3,"y":1.65},{"i":11,"x":4,"y":1.38},{"i":11,"x":6,"y":1.1},{"i":11,"x":9,"y":0.86},{"i":11,"x":13,"y":0.66},{"i":11,"x":18,"y":0.48},{"i":11,"x":25,"y":0.33},{"i":11,"x":33,"y":0.22},{"i":11,"x":43,"y":0.15},{"i":11,"x":55,"y":0.11},
{"i":12,"x":2,"y":3.3},{"i":12,"x":3,"y":2.7},{"i":12,"x":4,"y":2.25},{"i":12,"x":6,"y":1.8},{"i":12,"x":9,"y":1.45},{"i":12,"x":13,"y":1.18},{"i":12,"x":18,"y":0.95},{"i":12,"x":25,"y":0.75},{"i":12,"x":33,"y":0.6},{"i":12,"x":43,"y":0.48},{"i":12,"x":55,"y":0.38},{"i":12,"x":70,"y":0.29},{"i":12,"x":90,"y":0.22},{"i":12,"x":115,"y":0.17},{"i":12,"x":140,"y":0.13},{"i":12,"x":170,"y":0.1}]
},
"vconcat":[
{"width":1138,"height":123,
"layer":[
{"data":{"values":[]},"mark":{"type":"square","filled":true,"opacity":1,"stroke":"black","strokeWidth":1},
"encoding":{
"color":{"field":"g","type":"nominal","scale":{"domain":["D","A","N"],"range":["#BA55D3","#DAA520","#006400"]},
"legend":{"title":null,"orient":"none","legendX":500,"legendY":15,"labelExpr":"datum.value == 'D' ? 'Diff. Superpop.' : datum.value == 'A' ? 'Same Superpop. (AFR)' : 'Same Superpop. (non-AFR)'","symbolType":"M-1,0.134H1V0.866H-1Z","symbolSize":1024,"symbolStrokeColor":"black","symbolStrokeWidth":1,"symbolOpacity":1,"labelFontSize":42,"labelFont":"Liberation Sans","labelColor":"black","labelLimit":2000,"rowPadding":6,"labelOffset":10,"padding":4,"fillColor":"white","strokeColor":"#d0d0d0","cornerRadius":4,
"encode":{"symbols":{"update":{"fill":{"scale":"color","field":"value"},"stroke":{"value":"black"},"strokeWidth":{"value":1},"opacity":{"value":1},"fillOpacity":{"value":1},"strokeOpacity":{"value":1}}}}}}}},
{"data":{"name":"P"},"mark":{"type":"circle","size":40,"opacity":0.5},
"encoding":{
"x":{"field":"x","type":"quantitative","scale":{"domain":[-5,200],"nice":false,"zero":false},"axis":{"orient":"top","labels":false,"ticks":false,"title":null,"grid":false}},
"y":{"field":"y","type":"quantitative","scale":{"domain":[92.77,97.93],"nice":false,"zero":false},"axis":{"orient":"left","values":[94,96],"labelExpr":"datum.value + '%'","title":null,"labelPadding":25,"grid":false}},
"color":{"field":"g","type":"nominal","scale":{"domain":["D","A","N"],"range":["#BA55D3","#DAA520","#006400"]},"legend":null}}},
{"data":{"values":[{}]},"mark":{"type":"rule","color":"#222","strokeWidth":1.6},
"encoding":{"x":{"datum":-8.15,"type":"quantitative","scale":{"domain":[-5,200],"nice":false,"zero":false},"axis":{"orient":"top","labels":false,"ticks":false,"title":null,"grid":false}},"x2":{"datum":-1.85},
"y":{"datum":92.52,"type":"quantitative","scale":{"domain":[92.77,97.93],"nice":false,"zero":false},"axis":{"orient":"right","labels":false,"ticks":false,"title":null,"grid":false}},"y2":{"datum":93.02}}},
{"data":{"values":[{}]},"mark":{"type":"rule","color":"#222","strokeWidth":1.6},
"encoding":{"x":{"datum":196.85,"type":"quantitative","scale":{"domain":[-5,200],"nice":false,"zero":false},"axis":{"orient":"top","labels":false,"ticks":false,"title":null,"grid":false}},"x2":{"datum":203.15},
"y":{"datum":92.52,"type":"quantitative","scale":{"domain":[92.77,97.93],"nice":false,"zero":false},"axis":null},"y2":{"datum":93.02}}}
],
"resolve":{"axis":{"y":"independent"}}},
{"width":1138,"height":495,
"layer":[
{"data":{"name":"D"},"transform":[{"filter":{"field":"i","oneOf":[1,2,3,20,37,33,18,19,24,25,26]}}],"mark":{"type":"line","strokeWidth":2.2,"opacity":0.25},
"encoding":{
"x":{"field":"x","type":"quantitative","scale":{"domain":[-5,200],"nice":false,"zero":false},"axis":{"orient":"bottom","values":[0,25,50,75,100,125,150,175,200],"title":"Breakpoint offset (bp)","labelPadding":6,"titlePadding":5,"labelFlush":false,"grid":false}},
"y":{"field":"y","type":"quantitative","scale":{"domain":[-0.233,6.434],"nice":false,"zero":false},"axis":{"orient":"left","values":[0,1,2,3,4,5,6],"labelExpr":"datum.value + '%'","title":"Callset Percentage","labelPadding":25,"titlePadding":24,"grid":false}},
"detail":{"field":"i","type":"nominal"},
"color":{"datum":"D","type":"nominal","scale":{"domain":["D","A","N"],"range":["#BA55D3","#DAA520","#006400"]},"legend":null}}},
{"data":{"name":"D"},"transform":[{"filter":{"not":{"field":"i","oneOf":[1,2,3,20,37,33,18,19,24,25,26]}}}],"mark":{"type":"line","strokeWidth":3.2,"opacity":0.85},
"encoding":{
"x":{"field":"x","type":"quantitative","scale":{"domain":[-5,200],"nice":false,"zero":false},"axis":{"orient":"bottom","values":[0,25,50,75,100,125,150,175,200],"title":"Breakpoint offset (bp)","labelPadding":6,"titlePadding":5,"labelFlush":false,"grid":false}},
"y":{"field":"y","type":"quantitative","scale":{"domain":[-0.233,6.434],"nice":false,"zero":false},"axis":null},
"detail":{"field":"i","type":"nominal"},
"color":{"datum":"D","type":"nominal","scale":{"domain":["D","A","N"],"range":["#BA55D3","#DAA520","#006400"]},"legend":null}}},
{"data":{"name":"A"},"mark":{"type":"line","strokeWidth":2,"opacity":0.7},
"encoding":{
"x":{"field":"x","type":"quantitative","scale":{"domain":[-5,200],"nice":false,"zero":false},"axis":{"orient":"bottom","values":[0,25,50,75,100,125,150,175,200],"title":"Breakpoint offset (bp)","labelPadding":6,"titlePadding":5,"labelFlush":false,"grid":false}},
"y":{"field":"y","type":"quantitative","scale":{"domain":[-0.233,6.434],"nice":false,"zero":false},"axis":null},
"detail":{"field":"i","type":"nominal"},
"color":{"datum":"A","type":"nominal","scale":{"domain":["D","A","N"],"range":["#BA55D3","#DAA520","#006400"]},"legend":null}}},
{"data":{"name":"N"},"mark":{"type":"line","strokeWidth":2,"opacity":0.75},
"encoding":{
"x":{"field":"x","type":"quantitative","scale":{"domain":[-5,200],"nice":false,"zero":false},"axis":{"orient":"bottom","values":[0,25,50,75,100,125,150,175,200],"title":"Breakpoint offset (bp)","labelPadding":6,"titlePadding":5,"labelFlush":false,"grid":false}},
"y":{"field":"y","type":"quantitative","scale":{"domain":[-0.233,6.434],"nice":false,"zero":false},"axis":null},
"detail":{"field":"i","type":"nominal"},
"color":{"datum":"N","type":"nominal","scale":{"domain":["D","A","N"],"range":["#BA55D3","#DAA520","#006400"]},"legend":null}}},
{"data":{"values":[{}]},"mark":{"type":"rule","color":"#222","strokeWidth":1.6},
"encoding":{"x":{"datum":-8.15,"type":"quantitative","scale":{"domain":[-5,200],"nice":false,"zero":false},"axis":{"orient":"bottom","values":[0,25,50,75,100,125,150,175,200],"title":"Breakpoint offset (bp)","labelPadding":6,"titlePadding":5,"labelFlush":false,"grid":false}},"x2":{"datum":-1.85},
"y":{"datum":6.353,"type":"quantitative","scale":{"domain":[-0.233,6.434],"nice":false,"zero":false},"axis":{"orient":"right","labels":false,"ticks":false,"title":null,"grid":false}},"y2":{"datum":6.515}}},
{"data":{"values":[{}]},"mark":{"type":"rule","color":"#222","strokeWidth":1.6},
"encoding":{"x":{"datum":196.85,"type":"quantitative","scale":{"domain":[-5,200],"nice":false,"zero":false},"axis":{"orient":"bottom","values":[0,25,50,75,100,125,150,175,200],"title":"Breakpoint offset (bp)","labelPadding":6,"titlePadding":5,"labelFlush":false,"grid":false}},"x2":{"datum":203.15},
"y":{"datum":6.353,"type":"quantitative","scale":{"domain":[-0.233,6.434],"nice":false,"zero":false},"axis":null},"y2":{"datum":6.515}}}
],
"resolve":{"axis":{"y":"independent"}}}
],
"resolve":{"scale":{"color":"shared","x":"independent","y":"independent"},"legend":{"color":"shared"}}
}
